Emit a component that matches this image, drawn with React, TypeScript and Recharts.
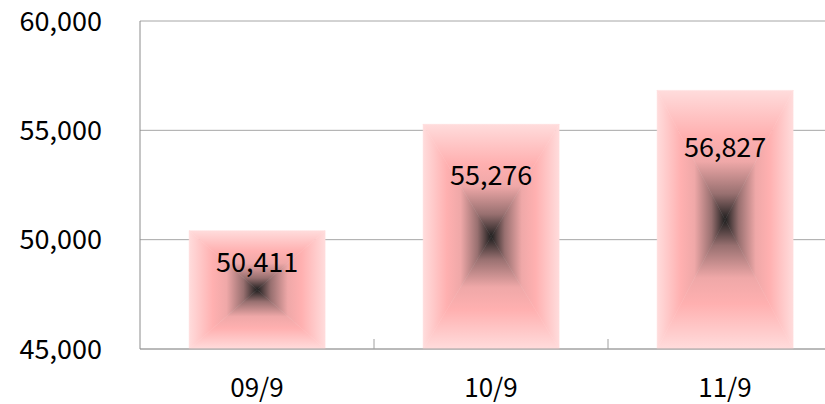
import React from 'react';
import { BarChart, Bar, XAxis, YAxis, CartesianGrid, LabelList } from 'recharts';

const categories = ['09/9', '10/9', '11/9'];
const values = [50411, 55276, 56827];
const yTicks = [45000, 50000, 55000, 60000];

const data = categories.map((c, i) => ({ name: c, value: values[i] }));

const FONT = '"Noto Sans CJK JP", "Noto Sans", sans-serif';

const fmt = (v: number) => v.toLocaleString('en-US');

const GradBar = (props: any) => {
  const { x, y, width: w, height: h, index } = props;
  if (w == null || h == null || h <= 0) return null;
  const cx = x + w / 2;
  const cy = y + h / 2;
  const id = `gb${index}`;
  const stops = (
    <>
      <stop offset="0" stopColor="#FFDCDC" />
      <stop offset="0.35" stopColor="#FFB0B0" />
      <stop offset="0.55" stopColor="#EFA8A8" />
      <stop offset="0.8" stopColor="#987070" />
      <stop offset="1" stopColor="#1E1E1E" />
    </>
  );
  return (
    <g>
      <defs>
        <linearGradient id={`${id}t`} gradientUnits="userSpaceOnUse" x1={cx} y1={y} x2={cx} y2={cy}>{stops}</linearGradient>
        <linearGradient id={`${id}b`} gradientUnits="userSpaceOnUse" x1={cx} y1={y + h} x2={cx} y2={cy}>{stops}</linearGradient>
        <linearGradient id={`${id}l`} gradientUnits="userSpaceOnUse" x1={x} y1={cy} x2={cx} y2={cy}>{stops}</linearGradient>
        <linearGradient id={`${id}r`} gradientUnits="userSpaceOnUse" x1={x + w} y1={cy} x2={cx} y2={cy}>{stops}</linearGradient>
      </defs>
      <polygon points={`${x},${y} ${x + w},${y} ${cx},${cy}`} fill={`url(#${id}t)`} stroke={`url(#${id}t)`} strokeWidth={0.5} />
      <polygon points={`${x},${y + h} ${x + w},${y + h} ${cx},${cy}`} fill={`url(#${id}b)`} stroke={`url(#${id}b)`} strokeWidth={0.5} />
      <polygon points={`${x},${y} ${x},${y + h} ${cx},${cy}`} fill={`url(#${id}l)`} stroke={`url(#${id}l)`} strokeWidth={0.5} />
      <polygon points={`${x + w},${y} ${x + w},${y + h} ${cx},${cy}`} fill={`url(#${id}r)`} stroke={`url(#${id}r)`} strokeWidth={0.5} />
    </g>
  );
};

const BarLabel = (props: any) => {
  const { x, y, width: w, height: h, value } = props;
  return (
    <text
      x={x + w / 2}
      y={y + 9 + 0.177 * h}
      textAnchor="middle"
      dominantBaseline="central"
      fontSize={27}
      fontFamily={FONT}
      fill="#000"
    >
      {fmt(value)}
    </text>
  );
};

const XTick = (props: any) => {
  const { x, y, payload, width, visibleTicksCount } = props;
  const half = payload && payload.offset ? payload.offset : width / (visibleTicksCount || 3) / 2;
  return (
    <g>
      <line x1={x + half} x2={x + half} y1={y - 10} y2={y} stroke="#A0A0A0" strokeWidth={1} />
      <text x={x} y={y + 48} textAnchor="middle" fontSize={26} fontFamily={FONT} fill="#000">
        {payload.value}
      </text>
    </g>
  );
};

export default function App() {
  return (
    <div style={{ position: 'fixed', left: 0, top: 0, width: 825, height: 404, overflow: 'hidden', background: '#fff' }}>
      <BarChart
        width={850}
        height={404}
        data={data}
        margin={{ top: 21, right: 8, left: 0, bottom: 0 }}
        barCategoryGap="21%"
      >
        <CartesianGrid vertical={false} stroke="#A6A6A6" />
        <XAxis
          dataKey="name"
          height={55}
          tickSize={0}
          tickMargin={0}
          tickLine={false}
          axisLine={{ stroke: '#A0A0A0' }}
          tick={<XTick />}
          interval={0}
        />
        <YAxis
          width={140}
          domain={[45000, 60000]}
          ticks={yTicks}
          interval={0}
          tickSize={0}
          tickMargin={38}
          tickLine={false}
          axisLine={{ stroke: '#8C8C8C' }}
          tickFormatter={fmt}
          tick={{ fontSize: 27, fill: '#000', fontFamily: FONT }}
        />
        <Bar dataKey="value" shape={<GradBar />} isAnimationActive={false}>
          <LabelList dataKey="value" content={<BarLabel />} />
        </Bar>
      </BarChart>
    </div>
  );
}
